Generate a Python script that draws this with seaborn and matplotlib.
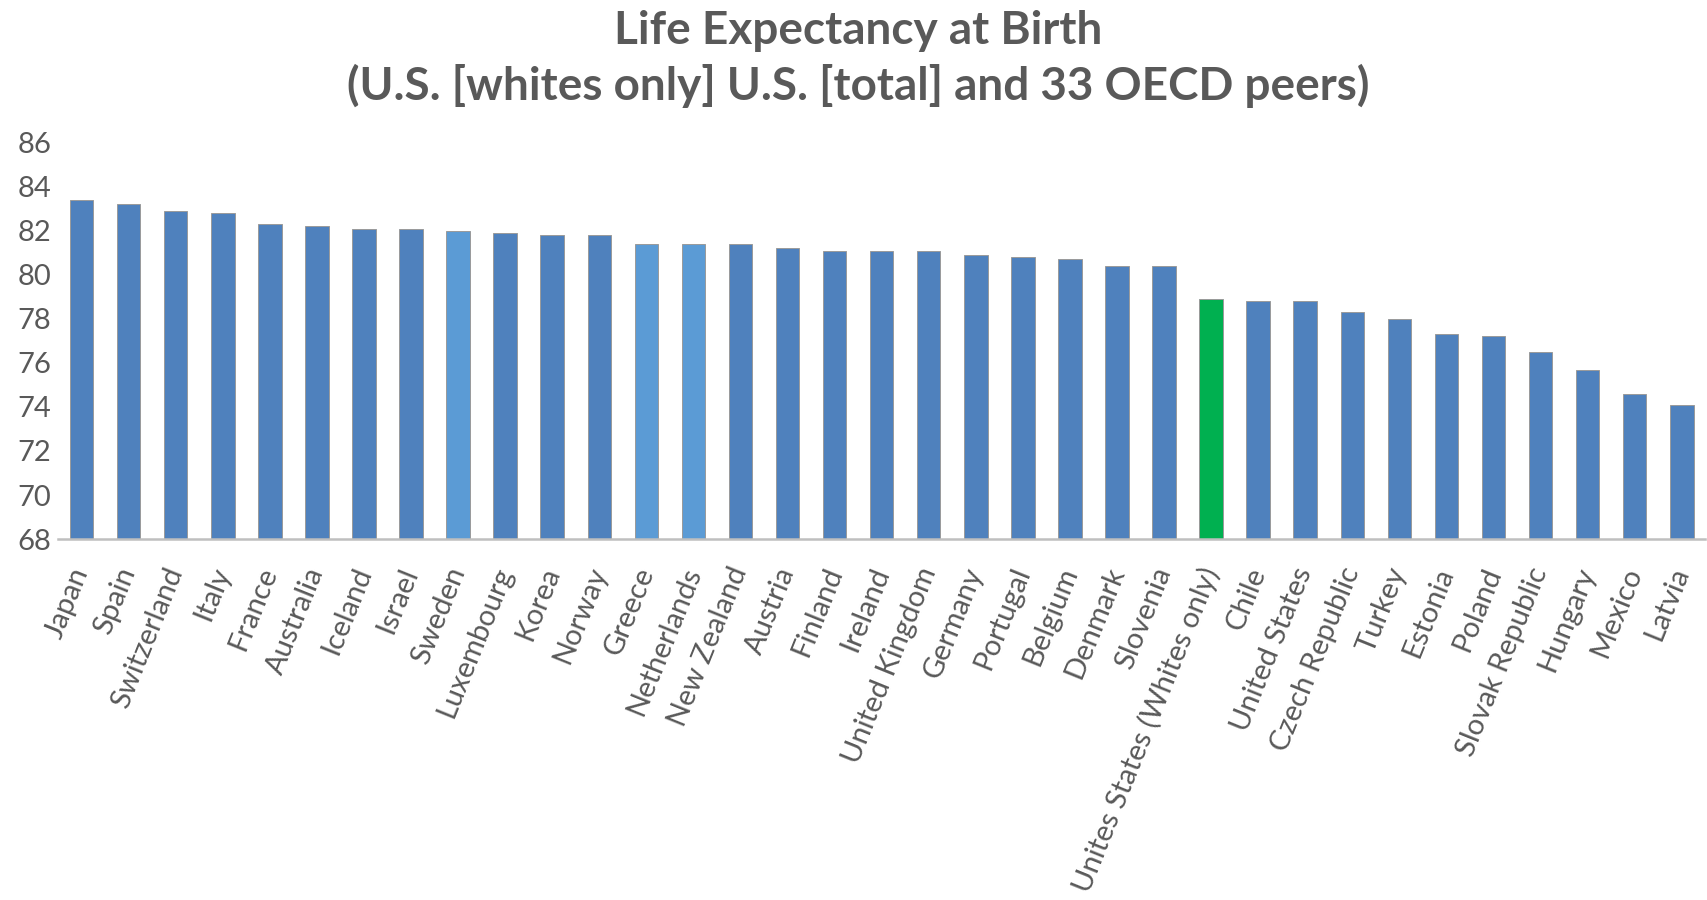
import matplotlib
matplotlib.use("Agg")
import matplotlib.pyplot as plt
import seaborn as sns
import pandas as pd

countries = [
    "Japan", "Spain", "Switzerland", "Italy", "France", "Australia", "Iceland",
    "Israel", "Sweden", "Luxembourg", "Korea", "Norway", "Greece", "Netherlands",
    "New Zealand", "Austria", "Finland", "Ireland", "United Kingdom", "Germany",
    "Portugal", "Belgium", "Denmark", "Slovenia", "Unites States (Whites only)",
    "Chile", "United States", "Czech Republic", "Turkey", "Estonia", "Poland",
    "Slovak Republic", "Hungary", "Mexico", "Latvia",
]
life_expectancy = [
    83.4, 83.2, 82.9, 82.8, 82.3, 82.2, 82.1, 82.1, 82.0, 81.9, 81.8, 81.8,
    81.4, 81.4, 81.4, 81.2, 81.1, 81.1, 81.1, 80.9, 80.8, 80.7, 80.4, 80.4,
    78.9, 78.8, 78.8, 78.3, 78.0, 77.3, 77.2, 76.5, 75.7, 74.6, 74.1,
]
light_blue_countries = ["Sweden", "Greece", "Netherlands"]
highlight_country = "Unites States (Whites only)"
y_ticks = [68, 70, 72, 74, 76, 78, 80, 82, 84, 86]

BLUE = "#4F81BD"
LIGHT_BLUE = "#5B9BD5"
GREEN = "#00B050"
TEXT = "#595959"

df = pd.DataFrame({"country": countries, "value": life_expectancy})
palette = {}
for c in countries:
    if c == highlight_country:
        palette[c] = GREEN
    elif c in light_blue_countries:
        palette[c] = LIGHT_BLUE
    else:
        palette[c] = BLUE

sns.set_theme(style="white")
plt.rcParams["font.family"] = ["Lato", "DejaVu Sans"]

fig = plt.figure(figsize=(17.07, 9.0), dpi=100)
ax = fig.add_axes([0.034, 0.401, 0.965, 0.4405])

sns.barplot(data=df, x="country", y="value", hue="country", palette=palette,
            legend=False, width=0.5, edgecolor="#9a9a9a", linewidth=0.7,
            saturation=1, ax=ax)

ax.set_ylim(68, 86)
ax.set_xlim(-0.5, len(countries) - 0.5)
ax.set_yticks(y_ticks)
ax.set_yticklabels([str(t) for t in y_ticks], fontsize=21, color=TEXT)
ax.set_xlabel("")
ax.set_ylabel("")

ax.tick_params(axis="both", length=0)
ax.tick_params(axis="y", pad=5)
ax.tick_params(axis="x", pad=21)
for lbl in ax.get_xticklabels():
    lbl.set_rotation(68)
    lbl.set_ha("right")
    lbl.set_va("center")
    lbl.set_rotation_mode("anchor")
    lbl.set_fontsize(21)
    lbl.set_color(TEXT)

for side in ("top", "right", "left"):
    ax.spines[side].set_visible(False)
ax.spines["bottom"].set_color("#BFBFBF")
ax.spines["bottom"].set_linewidth(1.8)

fig.text(0.503, 0.965, "Life Expectancy at Birth", ha="center", va="center",
         fontsize=33, fontweight="bold", color=TEXT)
fig.text(0.503, 0.904, "(U.S. [whites only] U.S. [total] and 33 OECD peers)",
         ha="center", va="center", fontsize=33, fontweight="bold", color=TEXT)

fig.savefig("out.png", dpi=100)
